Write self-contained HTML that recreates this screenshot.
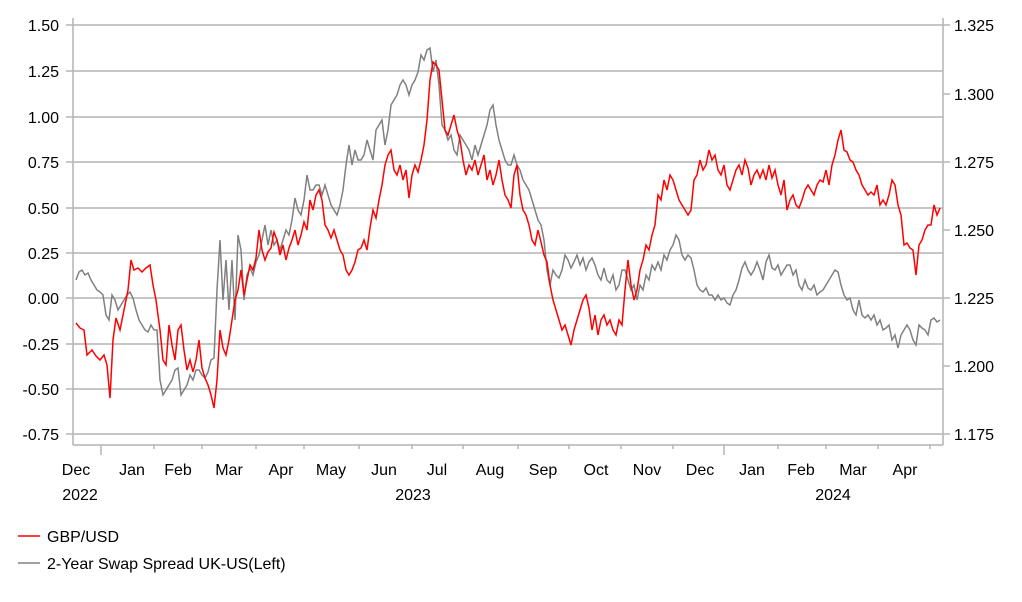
<!DOCTYPE html><html><head><style>body{margin:0;background:#fff}svg{font-family:"Liberation Sans",Arial,sans-serif}</style></head><body>
<svg width="1022" height="597" viewBox="0 0 1022 597" xmlns="http://www.w3.org/2000/svg">
<g stroke="#b4b4b4" stroke-width="1.5">
<line x1="73" y1="25" x2="943" y2="25"/><line x1="73" y1="71" x2="943" y2="71"/><line x1="73" y1="117" x2="943" y2="117"/><line x1="73" y1="162" x2="943" y2="162"/><line x1="73" y1="208" x2="943" y2="208"/><line x1="73" y1="253" x2="943" y2="253"/><line x1="73" y1="298" x2="943" y2="298"/><line x1="73" y1="344" x2="943" y2="344"/><line x1="73" y1="389" x2="943" y2="389"/><line x1="73" y1="434" x2="943" y2="434"/>
<line x1="73" y1="18" x2="73" y2="445"/><line x1="943" y1="18" x2="943" y2="445"/><line x1="73" y1="445" x2="943" y2="445"/>
<line x1="66" y1="25" x2="73" y2="25"/><line x1="66" y1="71" x2="73" y2="71"/><line x1="66" y1="117" x2="73" y2="117"/><line x1="66" y1="162" x2="73" y2="162"/><line x1="66" y1="208" x2="73" y2="208"/><line x1="66" y1="253" x2="73" y2="253"/><line x1="66" y1="298" x2="73" y2="298"/><line x1="66" y1="344" x2="73" y2="344"/><line x1="66" y1="389" x2="73" y2="389"/><line x1="66" y1="434" x2="73" y2="434"/>
<line x1="943" y1="25" x2="950" y2="25"/><line x1="943" y1="94" x2="950" y2="94"/><line x1="943" y1="162" x2="950" y2="162"/><line x1="943" y1="230" x2="950" y2="230"/><line x1="943" y1="298" x2="950" y2="298"/><line x1="943" y1="366" x2="950" y2="366"/><line x1="943" y1="434" x2="950" y2="434"/>
<line x1="101" y1="445" x2="101" y2="455"/><line x1="724" y1="445" x2="724" y2="455"/>
<line x1="154" y1="445" x2="154" y2="449"/><line x1="202" y1="445" x2="202" y2="449"/><line x1="256" y1="445" x2="256" y2="449"/><line x1="304" y1="445" x2="304" y2="449"/><line x1="359" y1="445" x2="359" y2="449"/><line x1="412" y1="445" x2="412" y2="449"/><line x1="463" y1="445" x2="463" y2="449"/><line x1="518" y1="445" x2="518" y2="449"/><line x1="569" y1="445" x2="569" y2="449"/><line x1="621" y1="445" x2="621" y2="449"/><line x1="673" y1="445" x2="673" y2="449"/><line x1="778" y1="445" x2="778" y2="449"/><line x1="826" y1="445" x2="826" y2="449"/><line x1="878" y1="445" x2="878" y2="449"/><line x1="930" y1="445" x2="930" y2="449"/>
</g>
<g font-size="16" fill="#000" text-anchor="end">
<text x="59" y="31">1.50</text><text x="59" y="77">1.25</text><text x="59" y="123">1.00</text><text x="59" y="168">0.75</text><text x="59" y="214">0.50</text><text x="59" y="259">0.25</text><text x="59" y="304">0.00</text><text x="59" y="350">-0.25</text><text x="59" y="395">-0.50</text><text x="59" y="440">-0.75</text>
</g>
<g font-size="16" fill="#000">
<text x="954" y="31">1.325</text><text x="954" y="100">1.300</text><text x="954" y="168">1.275</text><text x="954" y="236">1.250</text><text x="954" y="304">1.225</text><text x="954" y="372">1.200</text><text x="954" y="440">1.175</text>
</g>
<g font-size="16" fill="#000" text-anchor="middle">
<text x="76" y="475">Dec</text><text x="132" y="475">Jan</text><text x="178" y="475">Feb</text><text x="229" y="475">Mar</text><text x="281" y="475">Apr</text><text x="331" y="475">May</text><text x="384" y="475">Jun</text><text x="437" y="475">Jul</text><text x="490" y="475">Aug</text><text x="543" y="475">Sep</text><text x="596" y="475">Oct</text><text x="647" y="475">Nov</text><text x="700" y="475">Dec</text><text x="752" y="475">Jan</text><text x="801" y="475">Feb</text><text x="853" y="475">Mar</text><text x="905" y="475">Apr</text>
<text x="80" y="500">2022</text><text x="413" y="500">2023</text><text x="833" y="500">2024</text>
</g>
<polyline fill="none" stroke="#808080" stroke-width="1.5" points="76,280 79,272 82,270 85,275 88,273 91,280 94,285 97,290 100,292 103,295 106,315 109,320 112,295 115,300 118,310 121,305 124,300 127,295 130,292 133,298 136,310 139,320 142,325 145,330 148,332 151,325 154,330 157,330 160,380 163,395 166,390 169,385 172,380 175,370 178,368 181,395 184,390 187,385 190,375 193,380 196,370 199,370 202,375 205,378 208,372 211,360 214,358 217,290 220,240 223,300 226,260 229,310 232,260 235,320 238,235 241,250 244,300 247,275 250,268 253,275 256,262 259,255 262,240 265,225 268,245 271,230 274,245 277,240 280,250 283,240 286,230 289,235 292,220 295,198 298,210 301,215 304,200 307,175 310,190 313,190 316,185 319,185 322,195 325,185 328,195 331,205 334,210 337,215 340,205 343,190 346,165 349,145 352,165 355,150 358,160 361,160 364,155 367,140 370,150 373,160 376,130 379,125 382,120 385,145 388,130 391,105 394,100 397,95 400,85 403,80 406,85 409,95 412,85 415,80 418,72 421,55 424,60 427,50 430,48 433,72 436,60 439,85 442,125 445,130 448,140 451,135 454,150 457,155 460,135 463,140 466,145 469,150 472,160 475,145 478,155 481,145 484,135 487,125 490,110 493,105 496,125 499,140 502,150 505,160 508,165 511,165 514,155 517,165 520,170 523,180 526,185 529,190 532,200 535,210 538,220 541,225 544,240 547,270 550,285 553,270 556,275 559,278 562,270 565,255 568,260 571,268 574,262 577,255 580,265 583,258 586,270 589,262 592,258 595,265 598,275 601,280 604,268 607,280 610,283 613,275 616,290 619,285 622,270 625,270 628,280 631,290 634,285 637,300 640,285 643,290 646,275 649,280 652,265 655,270 658,262 661,270 664,255 667,260 670,250 673,245 676,235 679,240 682,255 685,260 688,255 691,258 694,270 697,285 700,290 703,292 706,288 709,295 712,295 715,300 718,295 721,300 724,298 727,303 730,305 733,295 736,290 739,280 742,268 745,262 748,270 751,275 754,270 757,262 760,270 763,280 766,262 769,255 772,268 775,270 778,265 781,275 784,270 787,265 790,265 793,275 796,270 799,285 802,290 805,280 808,288 811,290 814,285 817,295 820,292 823,290 826,285 829,280 832,275 835,270 838,272 841,285 844,295 847,300 850,298 853,310 856,315 859,300 862,315 865,318 868,315 871,320 874,315 877,325 880,320 883,330 886,328 889,325 892,340 895,335 898,348 901,335 904,330 907,325 910,330 913,340 916,345 919,325 922,328 925,330 928,335 931,320 934,318 937,322 940,320"/>
<polyline fill="none" stroke="#ff0000" stroke-width="1.5" points="76,323 80,328 84,330 87,355 92,350 96,356 100,360 104,355 107,365 110,398 113,340 116,318 120,330 124,310 128,290 131,260 134,270 138,268 142,272 146,268 150,265 153,285 156,300 160,330 163,360 166,365 169,325 172,345 175,360 178,330 181,325 184,350 187,370 190,360 193,372 196,360 199,340 202,368 205,378 208,385 211,395 214,408 217,380 220,330 223,348 226,355 229,340 232,320 235,300 238,290 241,270 244,295 247,280 250,265 253,270 256,258 259,230 262,250 265,260 268,252 271,248 274,232 277,240 280,255 283,245 286,260 289,248 292,240 295,230 298,245 301,235 304,222 307,230 310,200 313,210 316,195 319,190 322,200 325,225 328,230 331,238 334,230 337,240 340,250 343,255 346,270 349,275 352,270 355,262 358,250 361,248 364,240 367,250 370,228 373,210 376,218 379,200 382,185 385,165 388,155 391,150 394,170 397,175 400,165 403,180 406,170 409,198 412,175 415,165 418,172 421,160 424,145 427,120 430,80 433,62 436,65 439,70 442,100 445,130 448,135 451,125 454,115 457,130 460,140 463,160 466,175 469,165 472,170 475,160 478,175 481,165 484,155 487,180 490,170 493,185 496,175 499,160 502,180 505,195 508,200 511,208 514,175 517,165 520,195 523,210 526,215 529,225 532,240 535,245 538,230 541,242 544,255 547,262 550,285 553,300 556,310 559,320 562,330 565,325 568,335 571,345 574,330 577,320 580,310 583,300 586,295 589,308 592,330 595,315 598,335 601,320 604,315 607,325 610,320 613,330 616,335 619,320 622,325 625,290 628,260 631,285 634,300 637,290 640,270 643,260 646,245 649,250 652,235 655,225 658,195 661,200 664,180 667,190 670,175 673,180 676,190 679,200 682,205 685,210 688,215 691,210 694,180 697,175 700,160 703,170 706,165 709,150 712,160 715,155 718,170 721,175 724,165 727,185 730,190 733,180 736,170 739,165 742,175 745,160 748,168 751,185 754,175 757,170 760,178 763,170 766,180 769,165 772,178 775,170 778,185 781,195 784,180 787,210 790,200 793,195 796,205 799,208 802,200 805,190 808,185 811,190 814,195 817,185 820,180 823,182 826,170 829,185 832,165 835,155 838,140 841,130 844,150 847,152 850,160 853,162 856,170 859,175 862,185 865,190 868,195 871,192 874,195 877,185 880,205 883,200 886,205 889,195 892,180 895,185 898,205 901,215 904,245 907,243 910,248 913,250 916,275 919,245 922,240 925,230 928,225 931,225 934,205 937,215 940,208"/>
<line x1="18" y1="536" x2="40" y2="536" stroke="#ff0000" stroke-width="1.5"/>
<line x1="18" y1="563" x2="40" y2="563" stroke="#808080" stroke-width="1.5"/>
<text x="47" y="542" font-size="16">GBP/USD</text>
<text x="47" y="569" font-size="16">2-Year Swap Spread UK-US(Left)</text>
</svg>
</body></html>
